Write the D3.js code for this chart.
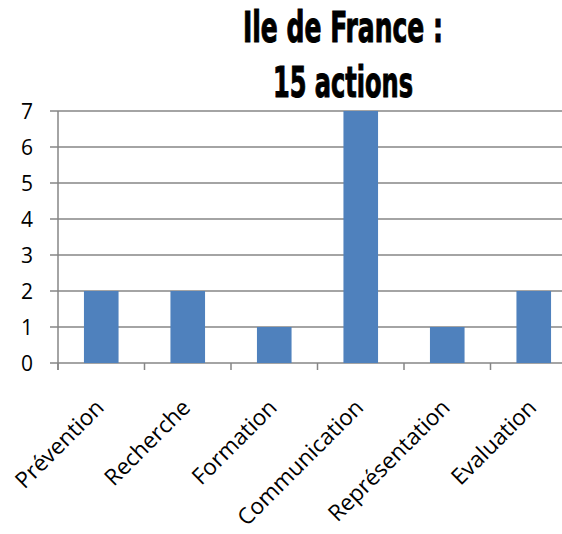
<!DOCTYPE html>
<html>
<head>
<meta charset="utf-8">
<script src="https://cdn.jsdelivr.net/npm/d3@7"></script>
<style>
  html, body { margin: 0; padding: 0; background: #fff; }
  svg { display: block; }
</style>
</head>
<body>
<svg id="chart" width="562" height="534"></svg>
<script>
const categories = ["Prévention", "Recherche", "Formation", "Communication", "Représentation", "Evaluation"];
const values = [2, 2, 1, 7, 1, 2];
const yTicks = [0, 1, 2, 3, 4, 5, 6, 7];
const titleLines = ["Ile de France :", "15 actions"];

const svg = d3.select("#chart");
const W = 562;
const plot = { left: 58, right: 577, top: 111, bottom: 363 };
const axisColor = "#868686";
const labelFont = "'Open Sans', sans-serif";

const x = d3.scaleBand()
  .domain(categories)
  .range([plot.left, plot.right])
  .paddingInner(0.6)
  .paddingOuter(0.3);
const step = x.step();

const y = d3.scaleLinear().domain([0, 7]).range([plot.bottom, plot.top]);

// gridlines
svg.append("g").selectAll("line")
  .data(yTicks)
  .join("line")
  .attr("x1", plot.left - 8)
  .attr("x2", W)
  .attr("y1", d => y(d))
  .attr("y2", d => y(d))
  .attr("stroke", axisColor)
  .attr("stroke-width", 1.5);

// bars
svg.append("g").selectAll("rect")
  .data(categories)
  .join("rect")
  .attr("x", d => x(d))
  .attr("width", x.bandwidth())
  .attr("y", (d, i) => y(values[i]))
  .attr("height", (d, i) => y(0) - y(values[i]))
  .attr("fill", "#4f81bd");

// y axis line
svg.append("line")
  .attr("x1", plot.left).attr("x2", plot.left)
  .attr("y1", plot.top).attr("y2", plot.bottom + 7)
  .attr("stroke", axisColor).attr("stroke-width", 1.5);

// x tick marks (category boundaries)
const boundaries = d3.range(categories.length + 1).map(i => plot.left + i * step);
svg.append("g").selectAll("line")
  .data(boundaries)
  .join("line")
  .attr("x1", d => d).attr("x2", d => d)
  .attr("y1", plot.bottom).attr("y2", plot.bottom + 7)
  .attr("stroke", axisColor).attr("stroke-width", 1.5);

// y tick labels
svg.append("g").selectAll("text")
  .data(yTicks)
  .join("text")
  .attr("x", 33)
  .attr("y", d => y(d))
  .attr("dy", "0.36em")
  .attr("text-anchor", "end")
  .attr("font-family", labelFont)
  .attr("font-size", 21)
  .attr("fill", "#000")
  .text(d => d);

// x tick labels
svg.append("g").selectAll("text")
  .data(categories)
  .join("text")
  .attr("transform", d => `translate(${x(d) + x.bandwidth() / 2 + 4},${plot.bottom + 46}) rotate(-45)`)
  .attr("text-anchor", "end")
  .attr("font-family", labelFont)
  .attr("font-size", 22.5)
  .attr("fill", "#000")
  .text(d => d);

// title
const titleWidths = [200, 140];
svg.append("g").selectAll("text")
  .data(titleLines)
  .join("text")
  .attr("x", 343)
  .attr("y", (d, i) => 42 + i * 55)
  .attr("text-anchor", "middle")
  .attr("font-family", "'DejaVu Sans Condensed', 'DejaVu Sans', sans-serif")
  .attr("font-weight", "bold")
  .attr("font-size", 42)
  .attr("textLength", (d, i) => titleWidths[i])
  .attr("lengthAdjust", "spacingAndGlyphs")
  .attr("fill", "#000")
  .attr("stroke", "#000")
  .attr("stroke-width", 1)
  .text(d => d);
</script>
</body>
</html>
